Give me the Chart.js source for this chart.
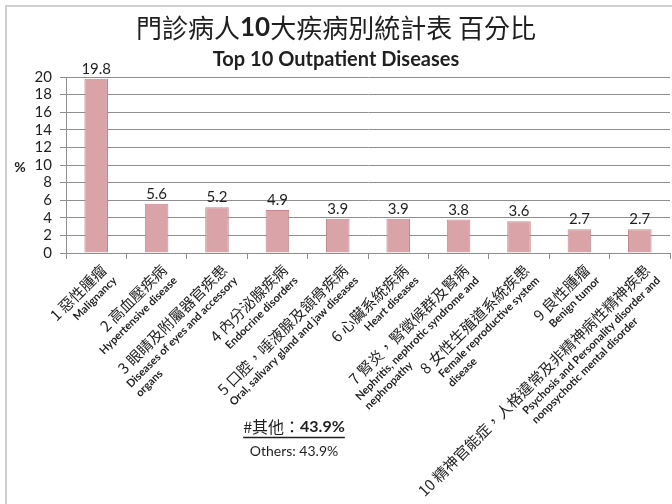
<!DOCTYPE html>
<html>
<head>
<meta charset="utf-8">
<script src="https://cdn.jsdelivr.net/npm/chart.js@4/dist/chart.umd.min.js"></script>
<style>
  html, body { margin: 0; padding: 0; background: #fff; }
  #chart { display: block; }
</style>
</head>
<body>
<canvas id="chart" width="672" height="504"></canvas>
<script>
// ── DATA ────────────────────────────────────────────────────────────────────
const categoriesZh = [
  '1 惡性腫瘤',
  '2 高血壓疾病',
  '3 眼睛及附屬器官疾患',
  '4 內分泌腺疾病',
  '5 口腔，唾液腺及頷骨疾病',
  '6 心臟系統疾病',
  '7 腎炎，腎徵候群及腎病',
  '8 女性生殖道系統疾患',
  '9 良性腫瘤',
  '10 精神官能症，人格違常及非精神病性精神疾患'
];
const categoriesEn = [
  ['Malignancy'],
  ['Hypertensive disease'],
  ['Diseases of eyes and accessory', 'organs'],
  ['Endocrine disorders'],
  ['Oral, salivary gland and jaw diseases'],
  ['Heart diseases'],
  ['Nephritis, nephrotic syndrome and', 'nephropathy'],
  ['Female reproductive system', 'disease'],
  ['Benign tumor'],
  ['Psychosis and Personality disorder and', 'nonpsychotic mental disorder']
];
const percentValues = [19.8, 5.6, 5.2, 4.9, 3.9, 3.9, 3.8, 3.6, 2.7, 2.7];
const othersPercent = 43.9;
const yTicksMax = 20;
const yTicksStep = 2;

const CJK = '"Noto Sans CJK TC"';
const LAT = 'Lato, "Open Sans", sans-serif';
const TEXT = '#1f1f1f';
const GRID = '#8e8e8e';

// ── DECORATION PLUGIN ───────────────────────────────────────────────────────
const decor = {
  id: 'decor',
  beforeDraw(chart) {
    const c = chart.ctx;
    c.save();
    c.fillStyle = '#fff';
    c.fillRect(0, 0, chart.width, chart.height);
    // frame top/left
    c.strokeStyle = '#cfcfcf';
    c.lineWidth = 2;
    c.beginPath();
    c.moveTo(6, chart.height);
    c.lineTo(6, 6);
    c.lineTo(chart.width, 6);
    c.stroke();
    c.restore();
  },
  afterDatasetsDraw(chart) {
    const c = chart.ctx;
    const meta = chart.getDatasetMeta(0);
    c.save();
    c.fillStyle = TEXT;
    c.font = '15px ' + LAT;
    c.textAlign = 'center';
    c.textBaseline = 'alphabetic';
    meta.data.forEach((bar, i) => {
      c.fillText(percentValues[i].toFixed(1), bar.x, bar.y - 5);
    });
    c.restore();
  },
  afterDraw(chart) {
    const c = chart.ctx;
    c.save();
    c.fillStyle = TEXT;
    c.textBaseline = 'middle';

    // main title with bold "10"
    const parts = [
      { t: '門診病人', f: '26px ' + CJK },
      { t: '10', f: 'bold 26px ' + LAT },
      { t: '大疾病別統計表 百分比', f: '26px ' + CJK }
    ];
    let total = 0;
    parts.forEach(p => { c.font = p.f; p.w = c.measureText(p.t).width; total += p.w; });
    let x = 336 - total / 2;
    c.textAlign = 'left';
    parts.forEach(p => { c.font = p.f; c.fillText(p.t, x, 28); x += p.w; });

    // subtitle
    c.textAlign = 'center';
    c.font = 'bold 20px ' + LAT;
    c.fillText('Top 10 Outpatient Diseases', 336, 60);

    // y unit
    c.font = 'bold 14px ' + LAT;
    c.fillText('%', 20, 167);

    // x labels, rotated 45°: chinese line ends at the tick, english lines
    // left-aligned and block right-aligned with the chinese line
    const xs = chart.scales.x;
    const enFont = 'bold 11px ' + LAT;
    categoriesZh.forEach((zh, i) => {
      c.font = enFont;
      const enW = Math.max(...categoriesEn[i].map(t => c.measureText(t).width));
      c.save();
      c.translate(xs.getPixelForValue(i) + 2, xs.top + 9);
      c.rotate(-Math.PI / 4);
      c.textBaseline = 'top';
      c.textAlign = 'right';
      c.font = '15px ' + CJK;
      c.fillText(zh, 0, 0);
      c.textAlign = 'left';
      c.font = enFont;
      categoriesEn[i].forEach((t, k) => c.fillText(t, -enW, 18 + k * 13));
      c.restore();
    });

    // others note
    const a = { t: '#其他：', f: '16px ' + CJK };
    const b = { t: othersPercent.toFixed(1) + '%', f: 'bold 16px ' + LAT };
    c.font = a.f; a.w = c.measureText(a.t).width;
    c.font = b.f; b.w = c.measureText(b.t).width;
    let ox = 294 - (a.w + b.w) / 2;
    c.textAlign = 'left';
    c.font = a.f; c.fillText(a.t, ox, 427);
    c.font = b.f; c.fillText(b.t, ox + a.w, 427);
    c.strokeStyle = TEXT;
    c.lineWidth = 1.5;
    c.beginPath();
    c.moveTo(ox, 437.5);
    c.lineTo(ox + a.w + b.w, 437.5);
    c.stroke();
    c.textAlign = 'center';
    c.font = '14px ' + LAT;
    c.fillText('Others: ' + othersPercent.toFixed(1) + '%', 294, 451);
    c.restore();
  }
};

// ── CHART ───────────────────────────────────────────────────────────────────
new Chart(document.getElementById('chart').getContext('2d'), {
  type: 'bar',
  data: {
    labels: categoriesZh,
    datasets: [{
      data: percentValues,
      backgroundColor: '#d9a3a8',
      borderColor: '#c4888e',
      borderWidth: 1,
      barPercentage: 0.39,
      categoryPercentage: 1
    }]
  },
  options: {
    responsive: false,
    animation: false,
    events: [],
    layout: { padding: { left: 0, top: 77, right: 2, bottom: 0 } },
    plugins: { legend: { display: false }, title: { display: false }, tooltip: { enabled: false } },
    scales: {
      x: {
        ticks: { display: false },
        grid: { display: true, drawOnChartArea: false, drawTicks: true, tickLength: 6, color: GRID },
        border: { display: true, color: GRID, width: 1 },
        afterFit: s => { s.height = 251; }
      },
      y: {
        min: 0, max: yTicksMax,
        ticks: { stepSize: yTicksStep, autoSkip: false, color: TEXT, font: { family: LAT, size: 15 }, padding: 8 },
        grid: { color: GRID, tickLength: 6 },
        border: { display: true, color: GRID, width: 1 },
        afterFit: s => { s.width = 66; }
      }
    }
  },
  plugins: [decor]
});
</script>
</body>
</html>
